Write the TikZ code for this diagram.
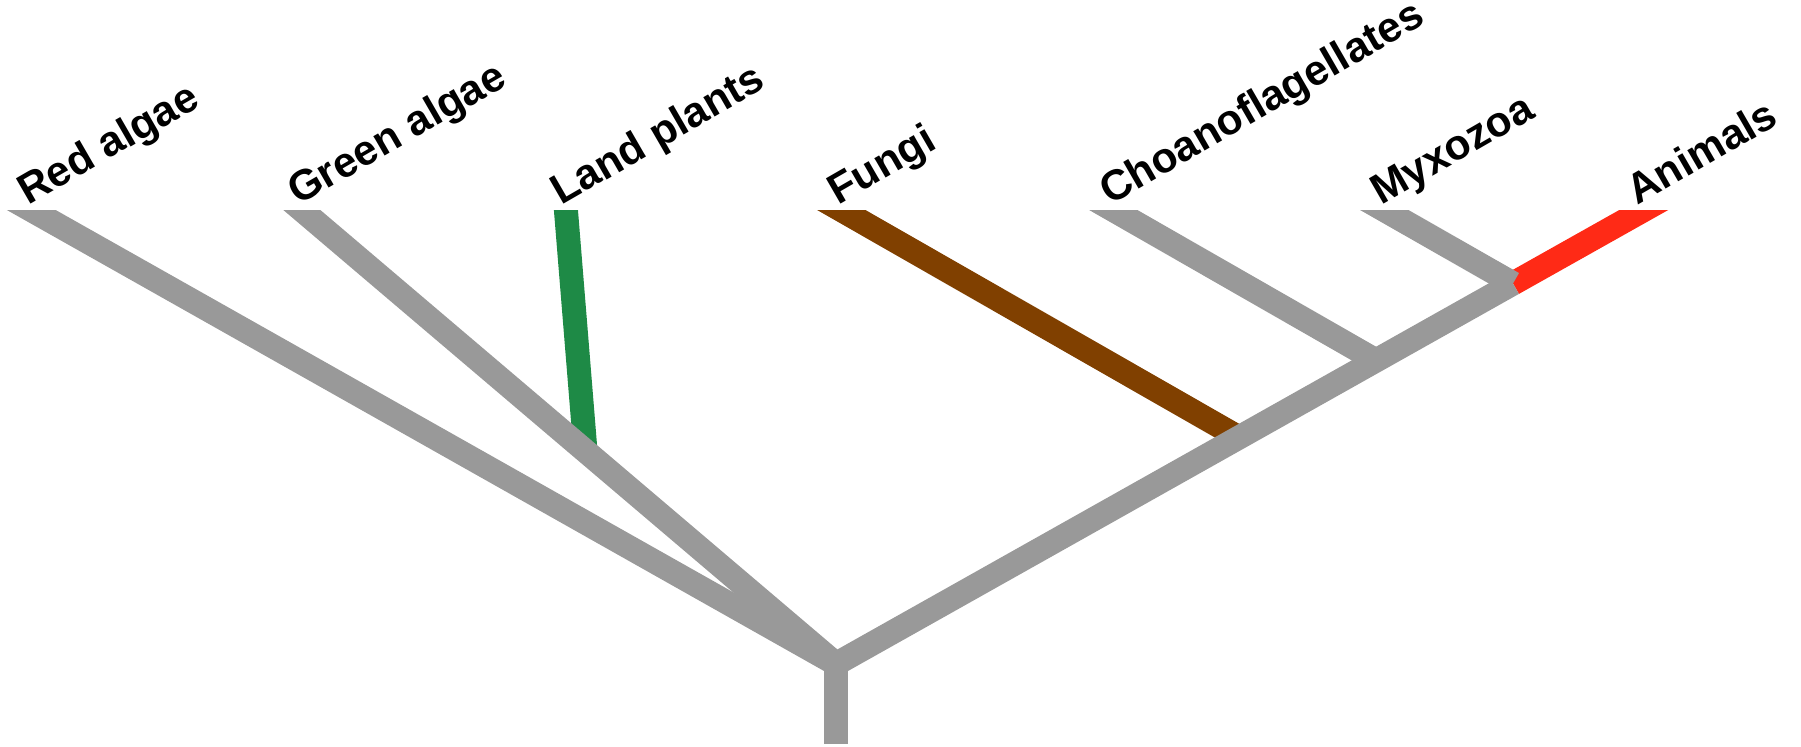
\documentclass[tikz,border=0pt]{standalone}
\usepackage{fontspec}
\setmainfont{Liberation Sans}
\usepackage{xcolor}
\usepackage{tikz}
\usetikzlibrary{calc}

\definecolor{branchgray}{RGB}{153,153,153}
\definecolor{landgreen}{RGB}{30,138,70}
\definecolor{fungibrown}{RGB}{128,64,0}
\definecolor{animalred}{RGB}{255,42,22}

\begin{document}
\begin{tikzpicture}[x=0.5pt,y=-0.5pt,
  branch/.style={line width=12pt,draw=branchgray},
  taxon/.style={anchor=base west,rotate=30,inner sep=0pt,
    font=\bfseries\fontsize{21.2}{25}\selectfont}]
\useasboundingbox (0,0) rectangle (1801,747);

% tips and labels
\foreach \n/\x/\t in {red/33/Red algae,green/303/Green algae,land/566/Land plants,
  fungi/843/Fungi,choano/1115/Choanoflagellates,myxo/1386/Myxozoa,animals/1642/Animals} {
    \coordinate (\n-tip) at (\x,211);
    \node[taxon] (\n-lbl) at (\x-5,206) {\t};
}

% branch points
\coordinate (root) at (836,664);
\coordinate (base) at (836,744);
\coordinate (fungi-j) at ($(root)!0.5!(animals-tip)$);
\coordinate (choano-j) at ($(root)!0.67!(animals-tip)$);
\coordinate (myxo-j) at ($(root)!0.84!(animals-tip)$);
\coordinate (land-j) at ($(green-tip)!0.53!(root)$);

\begin{scope}
\clip (0,211) rectangle (1801,747);
% coloured lineages
\draw[branch,landgreen] ($(land-j)!1.15!(land-tip)$) -- (land-j);
\draw[branch,fungibrown] ($(fungi-j)!1.1!(fungi-tip)$) -- (fungi-j);
\draw[branch,animalred] (myxo-j) -- ($(myxo-j)!1.3!(animals-tip)$);
% grey tree
\draw[branch] ($(root)!1.05!(red-tip)$) -- (root) -- (myxo-j);
\draw[branch] ($(root)!1.06!(green-tip)$) -- (root);
\draw[branch] (choano-j) -- ($(choano-j)!1.2!(choano-tip)$);
\draw[branch] (myxo-j) -- ($(myxo-j)!1.3!(myxo-tip)$);
\draw[branch] (root) -- (base);
\end{scope}
\end{tikzpicture}
\end{document}
